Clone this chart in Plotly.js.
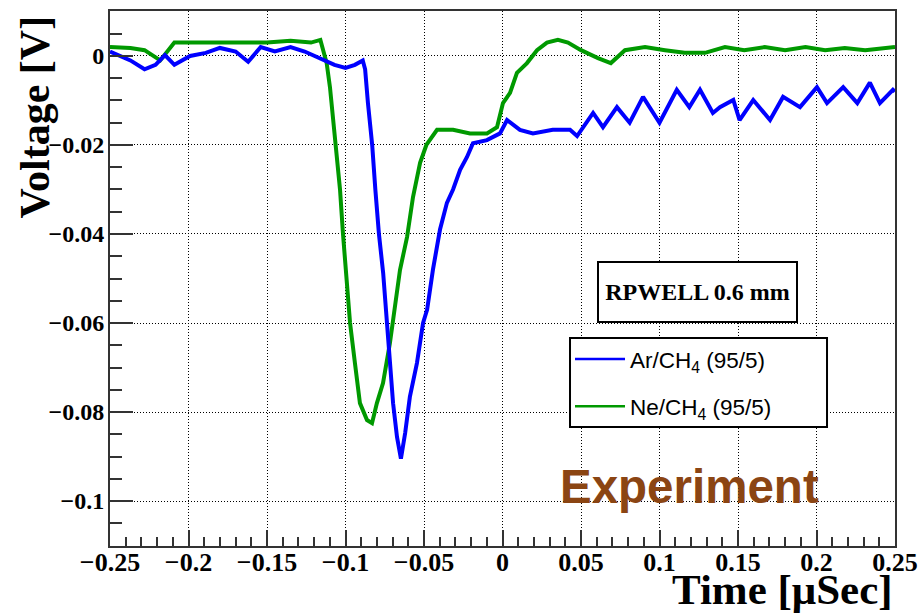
<!DOCTYPE html>
<html>
<head>
<meta charset="utf-8">
<script src="https://cdn.plot.ly/plotly-3.0.1.min.js"></script>
<style>html,body{margin:0;padding:0;background:#fff}#chart{width:918px;height:613px}</style>
</head>
<body>
<div id="chart"></div>
<script>
// Time [µs] and voltage [V]
const t_ar = [-0.25,-0.237,-0.228,-0.221,-0.215,-0.209,-0.199,-0.189,-0.18,-0.17,-0.162,-0.154,-0.145,-0.135,-0.126,-0.116,-0.107,-0.1,-0.094,-0.089,-0.0875,-0.0857,-0.083,-0.081,-0.0787,-0.076,-0.0736,-0.0717,-0.0697,-0.0672,-0.0647,-0.062,-0.059,-0.0545,-0.0506,-0.048,-0.0443,-0.0398,-0.0354,-0.0315,-0.027,-0.0226,-0.0188,-0.0099,-0.0016,0.0029,0.0111,0.0194,0.032,0.043,0.0475,0.0577,0.064,0.0729,0.081,0.0895,0.1,0.111,0.119,0.1258,0.134,0.1385,0.143,0.147,0.151,0.1597,0.1704,0.1787,0.1895,0.2003,0.2067,0.217,0.226,0.234,0.2404,0.2487,0.25];
const v_ar = [0.001,-0.001,-0.003,-0.002,0.0002,-0.002,0.0,0.0007,0.0018,0.001,-0.0013,0.002,0.001,0.002,0.001,-0.0005,-0.002,-0.0027,-0.002,-0.001,-0.003,-0.0106,-0.02,-0.03,-0.04,-0.0488,-0.06,-0.069,-0.078,-0.0856,-0.0905,-0.0847,-0.0766,-0.069,-0.06,-0.057,-0.048,-0.039,-0.033,-0.03,-0.0256,-0.0227,-0.0196,-0.0189,-0.0174,-0.0144,-0.0166,-0.0174,-0.0166,-0.0166,-0.018,-0.0128,-0.016,-0.0115,-0.015,-0.0092,-0.015,-0.0076,-0.0115,-0.0076,-0.0128,-0.0115,-0.0106,-0.0099,-0.0144,-0.0099,-0.0144,-0.0092,-0.0115,-0.007,-0.0106,-0.007,-0.0106,-0.006,-0.0106,-0.0076,-0.008];
const t_ne = [-0.25,-0.237,-0.228,-0.218,-0.209,-0.19,-0.17,-0.15,-0.135,-0.122,-0.116,-0.112,-0.1099,-0.108,-0.106,-0.1035,-0.1016,-0.0997,-0.0971,-0.094,-0.0908,-0.0863,-0.0831,-0.08,-0.0761,-0.0717,-0.0685,-0.0653,-0.0608,-0.057,-0.0525,-0.0485,-0.0417,-0.0315,-0.0207,-0.0099,-0.0035,0.0003,0.0048,0.0092,0.0156,0.022,0.0283,0.0353,0.0417,0.05,0.0608,0.069,0.078,0.0908,0.1035,0.116,0.129,0.1417,0.154,0.167,0.18,0.193,0.2055,0.218,0.231,0.248,0.25];
const v_ne = [0.002,0.0018,0.0013,-0.001,0.003,0.003,0.003,0.003,0.0034,0.003,0.0036,-0.0016,-0.007,-0.0137,-0.02,-0.03,-0.04,-0.0488,-0.06,-0.069,-0.078,-0.0818,-0.0825,-0.078,-0.0735,-0.0645,-0.0564,-0.0481,-0.0407,-0.0317,-0.024,-0.02,-0.0166,-0.0166,-0.0174,-0.0174,-0.016,-0.0106,-0.0083,-0.0038,-0.0016,0.0013,0.003,0.0036,0.003,0.0013,-0.0005,-0.0016,0.0013,0.002,0.0013,0.0007,0.0007,0.002,0.0013,0.002,0.0013,0.002,0.0013,0.0018,0.0013,0.002,0.002];
const names = ['Ar/CH<sub>4</sub> (95/5)', 'Ne/CH<sub>4</sub> (95/5)'];
const colors = ['#0000ff', '#009900'];
const xTicks = [-0.25,-0.2,-0.15,-0.1,-0.05,0,0.05,0.1,0.15,0.2,0.25];
const xTickText = ['\u22120.25','\u22120.2','\u22120.15','\u22120.1','\u22120.05','0','0.05','0.1','0.15','0.2','0.25'];
const yTicks = [-0.1,-0.08,-0.06,-0.04,-0.02,0];
const yTickText = ['\u22120.1','\u22120.08','\u22120.06','\u22120.04','\u22120.02','0'];

const traces = [
  {x: t_ar, y: v_ar, mode: 'lines', line: {color: colors[0], width: 4}, showlegend: false, hoverinfo: 'skip'},
  {x: t_ne, y: v_ne, mode: 'lines', line: {color: colors[1], width: 4}, showlegend: false, hoverinfo: 'skip'},
  {x: [null], y: [null], mode: 'lines', name: names[0], line: {color: colors[0], width: 2.5}, legendgroup: 'a'},
  {x: [null], y: [null], mode: 'lines', name: names[1], line: {color: colors[1], width: 2.5}, legendgroup: 'b'}
];
// draw Ne first then Ar on top
const data = [traces[1], traces[0], traces[2], traces[3]];

const serif = 'Liberation Serif, Times New Roman, serif';
const axisCommon = {
  showline: true, linecolor: '#333', linewidth: 2, mirror: true,
  ticks: 'inside', tickcolor: '#333', tickwidth: 2,
  showgrid: true, gridcolor: '#000', gridwidth: 1, griddash: '1px,2px',
  zeroline: false, tickmode: 'array'
};
const layout = {
  width: 918, height: 613,
  margin: {l: 110, r: 23, t: 11, b: 67},
  paper_bgcolor: '#fff', plot_bgcolor: '#fff',
  xaxis: Object.assign({}, axisCommon, {
    range: [-0.25, 0.25], tickvals: xTicks, ticktext: xTickText, ticklen: 16,
    tickfont: {family: serif, size: 26, weight: 'bold', color: '#000'},
    minor: {dtick: 0.01, tick0: 0, ticklen: 9, ticks: 'inside', tickcolor: '#333', tickwidth: 2, showgrid: false},
    ticklabelstandoff: -8
  }),
  yaxis: Object.assign({}, axisCommon, {
    range: [-0.1101, 0.0101], tickvals: yTicks, ticktext: yTickText, ticklen: 23,
    tickfont: {family: serif, size: 24, weight: 'bold', color: '#000'},
    minor: {dtick: 0.005, tick0: 0, ticklen: 12, ticks: 'inside', tickcolor: '#333', tickwidth: 2, showgrid: false},
    ticklabelstandoff: -1
  }),
  legend: {
    x: 0.586, xanchor: 'left', y: 0.3888, yanchor: 'top',
    bgcolor: 'rgba(0,0,0,0)', borderwidth: 0,
    font: {family: 'Liberation Sans, Arial, sans-serif', size: 22.5, color: '#000'},
    itemwidth: 50, tracegroupgap: 15
  },
  shapes: [
    {type: 'rect', xref: 'paper', yref: 'paper', x0: 0.586, x1: 0.9134, y0: 0.2224, y1: 0.3888,
     line: {color: '#000', width: 2}, fillcolor: '#fff', layer: 'above'}
  ],
  annotations: [
    {xref: 'paper', yref: 'paper', x: 1.0, y: -0.082, xanchor: 'right', yanchor: 'middle', showarrow: false,
     text: 'Time [\u03bcSec]', font: {family: serif, size: 43, weight: 'bold', color: '#000'}},
    {xref: 'paper', yref: 'paper', x: -0.0943, y: 0.9963, xanchor: 'center', yanchor: 'top', showarrow: false, textangle: -90,
     text: 'Voltage [V]', font: {family: serif, size: 42, weight: 'bold', color: '#000'}},
    {xref: 'paper', yref: 'paper', x: 0.748, y: 0.4748, xanchor: 'center', yanchor: 'middle', showarrow: false,
     text: 'RPWELL 0.6 mm', width: 195, height: 56, bgcolor: '#fff', bordercolor: '#000', borderwidth: 2,
     font: {family: serif, size: 24, weight: 'bold', color: '#000'}},
    {xref: 'paper', yref: 'paper', x: 0.5707, y: 0.1121, xanchor: 'left', yanchor: 'middle', showarrow: false,
     text: 'Experiment', font: {family: 'Liberation Sans, Arial, sans-serif', size: 47.5, weight: 'bold', color: '#8b4513'}}
  ]
};
Plotly.newPlot('chart', data, layout, {staticPlot: true, displayModeBar: false});
</script>
</body>
</html>
